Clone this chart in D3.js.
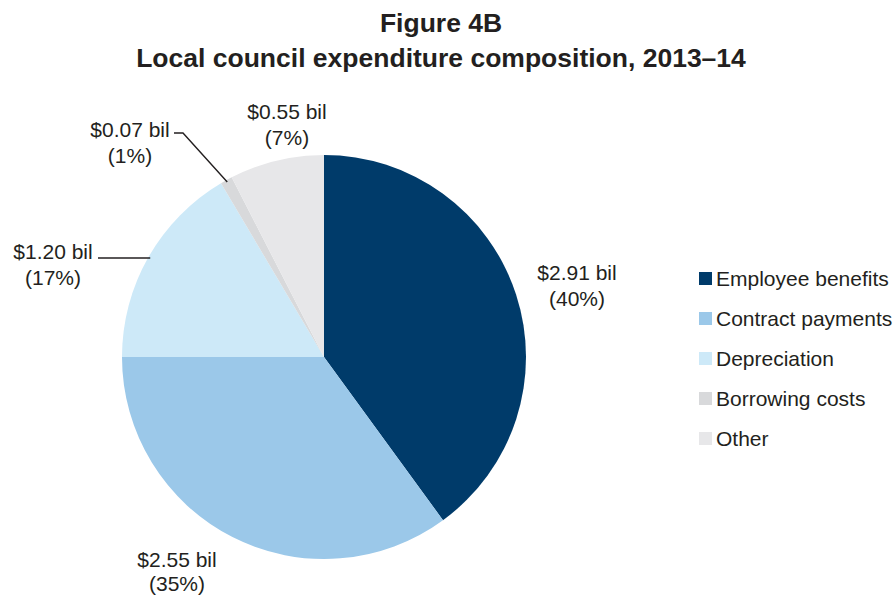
<!DOCTYPE html>
<html>
<head>
<meta charset="utf-8">
<script src="https://cdn.jsdelivr.net/npm/d3@7"></script>
<style>
  body { margin: 0; background: #fff; }
  svg { display: block; font-family: "Liberation Sans", Arial, sans-serif; }
</style>
</head>
<body>
<svg id="chart" width="894" height="596"></svg>
<script>
// Expenditure categories and values ($ billion), 2013–14
const categories = ["Employee benefits", "Contract payments", "Depreciation", "Borrowing costs", "Other"];
const values = [2.91, 2.55, 1.20, 0.07, 0.55];
const percentLabels = ["40%", "35%", "17%", "1%", "7%"];
const colors = ["#003b6a", "#9bc8e9", "#cde9f8", "#d8d9db", "#e7e7e9"];

const svg = d3.select("#chart");
const textColor = "#231f20";

// Title
svg.append("text").attr("x", 441).attr("y", 32).attr("text-anchor", "middle")
  .attr("font-size", 26.5).attr("font-weight", "bold").attr("fill", textColor)
  .text("Figure 4B");
svg.append("text").attr("x", 441).attr("y", 67).attr("text-anchor", "middle")
  .attr("font-size", 26.5).attr("font-weight", "bold").attr("fill", textColor)
  .text("Local council expenditure composition, 2013–14");

// Pie
const cx = 324, cy = 357, r = 202;
const pie = d3.pie().sort(null).value(d => d)(values);
const arc = d3.arc().innerRadius(0).outerRadius(r);
const g = svg.append("g").attr("transform", `translate(${cx},${cy})`);
g.selectAll("path").data(pie).join("path")
  .attr("d", arc)
  .attr("fill", (d, i) => colors[i]);

// Value labels placed around the pie (positions relative to the centre)
const labelPos = [
  { x: 253, y: -77, gap: 26 },
  { x: -147, y: 210, gap: 24 },
  { x: -271, y: -98, gap: 26 },
  { x: -194, y: -220, gap: 26 },
  { x: -37, y: -238, gap: 26 }
];
const fmt = d3.format(".2f");
pie.forEach((d, i) => {
  const p = labelPos[i];
  const t = g.append("text").attr("text-anchor", "middle")
    .attr("font-size", 21).attr("fill", textColor);
  t.append("tspan").attr("x", p.x).attr("y", p.y).text(`$${fmt(values[i])} bil`);
  t.append("tspan").attr("x", p.x).attr("y", p.y + p.gap).text(`(${percentLabels[i]})`);
});

// Leader lines for the narrow slices on the left
function leader(d, pts) {
  const c = d3.arc().innerRadius(r - 2).outerRadius(r - 2).centroid(d);
  g.append("path").attr("d", d3.line()([...pts, c]))
    .attr("fill", "none").attr("stroke", textColor).attr("stroke-width", 1.4);
}
leader(pie[3], [[-150, -224], [-141, -224]]);
leader(pie[2], [[-226, -99]]);

// Legend
const legend = svg.append("g").attr("transform", "translate(699,278)");
categories.forEach((c, i) => {
  const row = legend.append("g").attr("transform", `translate(0,${i * 40})`);
  row.append("rect").attr("x", 0).attr("y", -6).attr("width", 13).attr("height", 13)
    .attr("fill", colors[i]);
  row.append("text").attr("x", 17).attr("y", 7.5).attr("font-size", 21)
    .attr("fill", textColor).text(c);
});
</script>
</body>
</html>
